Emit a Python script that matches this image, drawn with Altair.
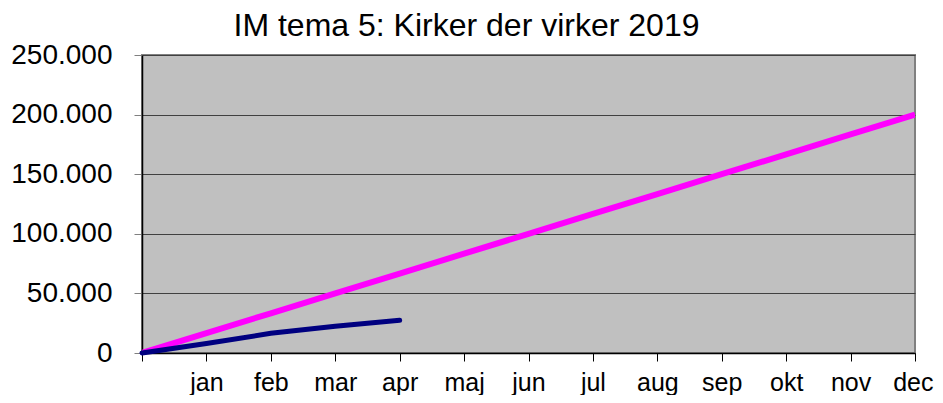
import altair as alt
import pandas as pd

months = ["", "jan", "feb", "mar", "apr", "maj", "jun", "jul", "aug", "sep", "okt", "nov", "dec"]
target = [0, 16667, 33333, 50000, 66667, 83333, 100000, 116667, 133333, 150000, 166667, 183333, 200000]
actual = [0, 8000, 16500, 22500, 27500]

rows = []
for i, v in enumerate(target):
    rows.append({"idx": i, "value": v, "series": "Mål"})
for i, v in enumerate(actual):
    rows.append({"idx": i, "value": v, "series": "Faktisk"})
df = pd.DataFrame(rows)

label_expr = "[" + ",".join("'" + m + "'" for m in months) + "][datum.value]"

base = alt.Chart(df).encode(
    x=alt.X("idx:Q", scale=alt.Scale(domain=[0, 12], nice=False, zero=False),
            axis=alt.Axis(values=list(range(13)), labelExpr=label_expr, title=None,
                          grid=False, domainColor="#000000", domainWidth=1.5,
                          tickColor="#000000", tickSize=8, labelPadding=9,
                          labelFontSize=25, labelFont="Liberation Sans",
                          labelColor="#000000", labelFlush=True, labelFlushOffset=18)),
    y=alt.Y("value:Q", scale=alt.Scale(domain=[0, 250000], nice=False),
            axis=alt.Axis(values=[0, 50000, 100000, 150000, 200000, 250000],
                          labelExpr="replace(format(datum.value, ','), ',', '.')",
                          title=None, grid=True, gridColor="#404040", gridWidth=1,
                          domainColor="#000000", domainWidth=1.5,
                          tickColor="#808080", tickSize=8, labelPadding=22,
                          labelFontSize=28, labelFont="Liberation Sans",
                          labelColor="#000000")),
    color=alt.Color("series:N", scale=alt.Scale(domain=["Mål", "Faktisk"],
                                                range=["#FF00FF", "#000080"]), legend=None),
)

target_line = base.transform_filter(alt.datum.series == "Mål").mark_line(strokeWidth=6, clip=True)
actual_line = base.transform_filter(alt.datum.series == "Faktisk").mark_line(strokeWidth=5, strokeCap="round")

chart = alt.layer(target_line, actual_line).properties(
    width=773, height=298,
    title=alt.TitleParams("IM tema 5: Kirker der virker 2019", font="Liberation Sans",
                          fontSize=32, fontWeight="normal", color="#000000",
                          anchor="middle", dx=-62, offset=-2),
    autosize=alt.AutoSizeParams(type="none"),
    padding={"left": 134, "top": 47, "right": 19, "bottom": 42},
    background="#FFFFFF",
).configure_view(fill="#C0C0C0", stroke="#808080", strokeWidth=2)

chart.save("out.html", embed_options={"renderer": "svg", "actions": False})
